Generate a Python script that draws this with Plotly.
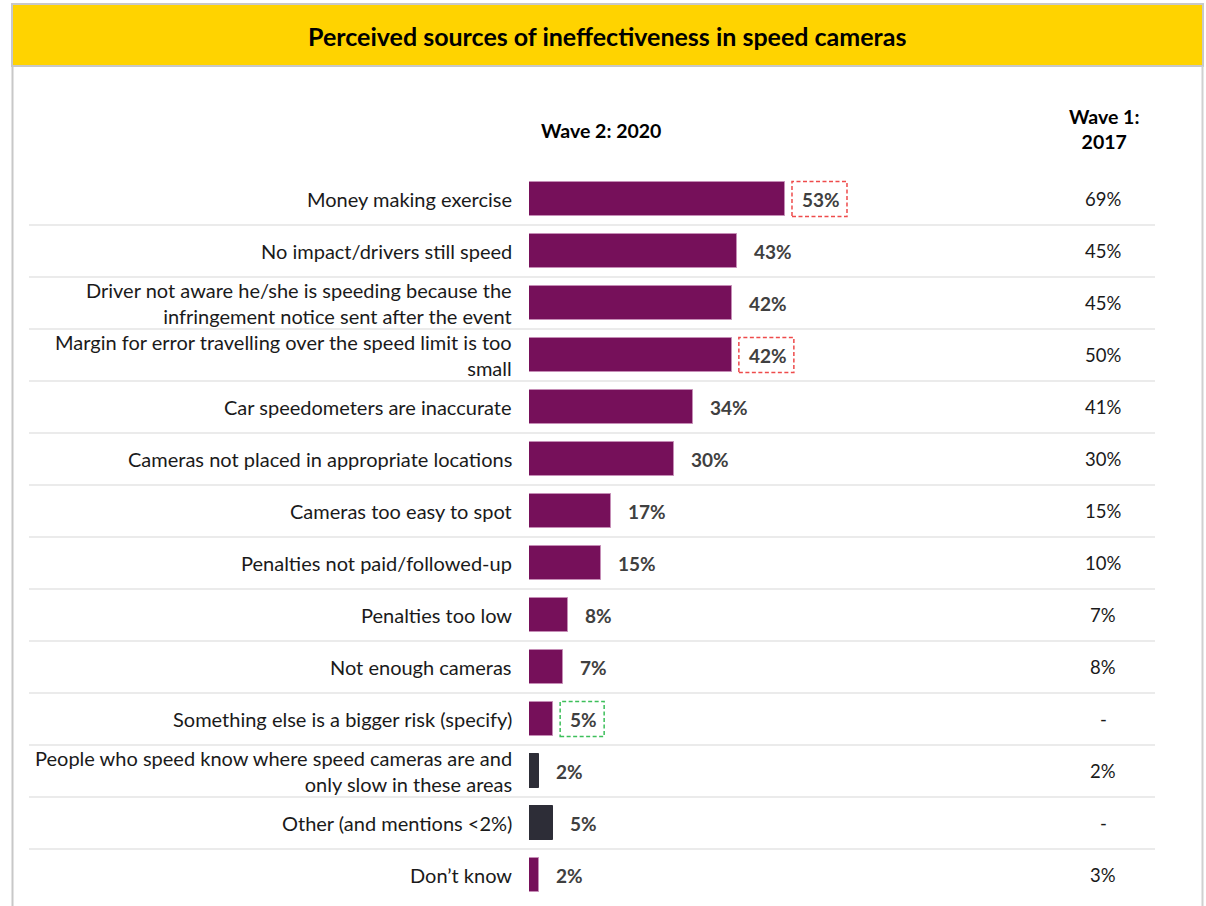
import plotly.graph_objects as go

categories = [
    "Money making exercise",
    "No impact/drivers still speed",
    "Driver not aware he/she is speeding because the<br>infringement notice sent after the event",
    "Margin for error travelling over the speed limit is too<br>small",
    "Car speedometers are inaccurate",
    "Cameras not placed in appropriate locations",
    "Cameras too easy to spot",
    "Penalties not paid/followed-up",
    "Penalties too low",
    "Not enough cameras",
    "Something else is a bigger risk (specify)",
    "People who speed know where speed cameras are and<br>only slow in these areas",
    "Other (and mentions <2%)",
    "Don\u2019t know",
]
wave2_2020 = [53, 43, 42, 42, 34, 30, 17, 15, 8, 7, 5, 2, 5, 2]
wave1_2017 = ["69%", "45%", "45%", "50%", "41%", "30%", "15%", "10%", "7%", "8%", "-", "2%", "-", "3%"]
dark_rows = [11, 12]
red_boxes = [0, 3]
green_boxes = [10]

W, H = 1206, 906
L, R, T, B = 529, 51, 173, 5
PW, PH = W - L - R, H - T - B

def px(x):
    return (x - L) / PW

def py(y):
    return (H - B - y) / PH

PURPLE = "#76105A"
DARK = "#2D2D37"

n = len(categories)
ys = list(range(n))
colors = [DARK if i in dark_rows else PURPLE for i in ys]
lcolors = [DARK if i in dark_rows else "#C58DB6" for i in ys]

fig = go.Figure()
fig.add_trace(go.Bar(
    x=wave2_2020, y=ys, orientation="h", width=0.67,
    marker=dict(color=colors, line=dict(color=lcolors, width=1)),
    hoverinfo="skip", showlegend=False,
))

FONT = "Lato"
shapes = []
annotations = []

# frame and header
shapes.append(dict(type="rect", xref="paper", yref="paper", x0=px(12), x1=px(1203), y0=py(66), y1=py(4),
                   fillcolor="#FFD300", line=dict(color="#C8C8C8", width=2), layer="below"))
shapes.append(dict(type="line", xref="paper", yref="paper", x0=px(12.5), x1=px(12.5), y0=py(66), y1=py(910),
                   line=dict(color="#C8C8C8", width=2)))
shapes.append(dict(type="line", xref="paper", yref="paper", x0=px(1202.5), x1=px(1202.5), y0=py(66), y1=py(910),
                   line=dict(color="#D0D0D0", width=2)))

# row separators
for i in range(n - 1):
    shapes.append(dict(type="line", xref="paper", yref="y", x0=px(29), x1=px(1155), y0=i + 0.5, y1=i + 0.5,
                       line=dict(color="#E4E4E4", width=1.5), layer="below"))

# highlight boxes
for i in red_boxes + green_boxes:
    col = "#EE4B4B" if i in red_boxes else "#3CBF5A"
    wbox = 55 if wave2_2020[i] >= 10 else 44
    shapes.append(dict(type="rect", xref="x", yref="y", xsizemode="pixel", ysizemode="pixel",
                       xanchor=wave2_2020[i], yanchor=i, x0=7, x1=7 + wbox, y0=-17.5, y1=17.5,
                       line=dict(color=col, width=1.5, dash="4px,2.5px"), fillcolor="rgba(0,0,0,0)"))

# title
annotations.append(dict(text="<b>Perceived sources of ineffectiveness in speed cameras</b>", xref="paper", yref="paper",
                        x=px(607), y=py(36), showarrow=False, xanchor="center", yanchor="middle",
                        font=dict(family=FONT, size=25, color="#000000")))
annotations.append(dict(text="<b>Wave 2: 2020</b>", xref="paper", yref="paper", x=px(539), y=py(130),
                        showarrow=False, xanchor="left", yanchor="middle",
                        font=dict(family=FONT, size=19.5, color="#000000")))
annotations.append(dict(text="<b>Wave 1:<br>2017</b>", xref="paper", yref="paper", x=px(1104), y=py(129),
                        showarrow=False, xanchor="center", yanchor="middle", align="center",
                        font=dict(family=FONT, size=19.5, color="#000000")))

for i in ys:
    annotations.append(dict(text=categories[i], xref="paper", yref="y", x=px(514), y=i,
                            showarrow=False, xanchor="right", yanchor="middle", align="right",
                            font=dict(family=FONT, size=20, color="#1A1A1A")))
    annotations.append(dict(text=f"<b>{wave2_2020[i]}%</b>", xref="x", yref="y", x=wave2_2020[i], y=i,
                            xshift=15, showarrow=False, xanchor="left", yanchor="middle",
                            font=dict(family=FONT, size=19, color="#404040")))
    annotations.append(dict(text=wave1_2017[i], xref="paper", yref="y", x=px(1103), y=i,
                            showarrow=False, xanchor="center", yanchor="middle",
                            font=dict(family=FONT, size=18.5, color="#1A1A1A")))

fig.update_layout(
    width=W, height=H, margin=dict(l=L, r=R, t=T, b=B, pad=0),
    paper_bgcolor="white", plot_bgcolor="white",
    xaxis=dict(range=[0, PW / 4.83], visible=False, fixedrange=True),
    yaxis=dict(range=[n - 0.5, -0.5], visible=False, fixedrange=True),
    shapes=shapes, annotations=annotations, bargap=0,
)
fig.write_html("out.html")
